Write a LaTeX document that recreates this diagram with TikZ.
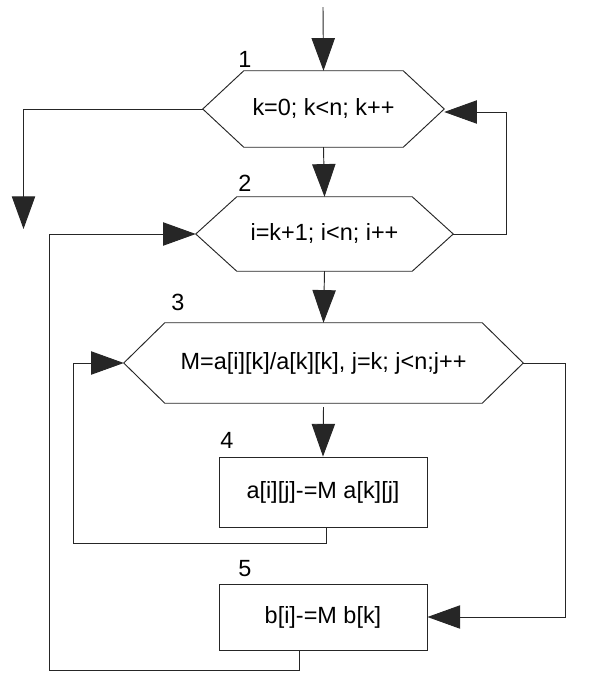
\documentclass[tikz,border=0pt]{standalone}
\usepackage{fontspec}
\setmainfont{Liberation Sans}
\usetikzlibrary{arrows.meta,calc}

\begin{document}
\begin{tikzpicture}[x=0.03cm, y=-0.03cm,
    line/.style={draw=black!85, line width=0.8pt},
    flow/.style={line, -{Triangle[length=0.98cm, width=0.7cm]}},
    hexbox/.style={rectangle, inner sep=0pt, font=\fontsize{20}{24}\selectfont},
    opbox/.style={rectangle, draw=black!85, line width=0.8pt, inner sep=0pt, font=\fontsize{20}{24}\selectfont},
    num/.style={font=\fontsize{20}{24}\selectfont}]
    \useasboundingbox (0,0) rectangle (591,686);

    % Loop headers
    \node[hexbox, minimum width=7.23cm, minimum height=2.28cm] (h1) at (323.5,109) {k=0; k<n; k++};
    \node[hexbox, minimum width=7.71cm, minimum height=2.22cm] (h2) at (324.5,234) {i=k+1; i<n; i++};
    \node[hexbox, minimum width=11.97cm, minimum height=2.4cm] (h3) at (323.5,363) {M=a[i][k]/a[k][k], j=k; j<n;j++};

    \foreach \h in {h1,h2,h3} {
        \draw[line] (\h.west) -- ($(\h.north west)+(41,0)$) -- ($(\h.north east)+(-41,0)$)
            -- (\h.east) -- ($(\h.south east)+(-41,0)$) -- ($(\h.south west)+(41,0)$) -- cycle;
    }

    % Loop bodies
    \node[opbox, minimum width=6.24cm, minimum height=2.1cm] (b4) at (323,492) {a[i][j]-=M a[k][j]};
    \node[opbox, minimum width=6.24cm, minimum height=1.98cm] (b5) at (323,617) {b[i]-=M b[k]};

    % Block numbers
    \node[num] (n1) at (245,59) {1};
    \node[num] (n2) at (245,183) {2};
    \node[num] (n3) at (178,302) {3};
    \node[num] (n4) at (227,440) {4};
    \node[num] (n5) at (245,569) {5};

    % Entry and exit
    \coordinate (start) at (323,7);
    \coordinate (stop) at (23.5,229);
    \draw[flow] (start) -- (h1.north);
    \draw[flow] (h1.west) -| (stop);

    % Main path down
    \draw[flow] (h1.south) -- (h2.north);
    \draw[flow] (h2.south) -- (h3.north);
    \draw[flow] ($(h3.south)+(0,4)$) -- (b4.north);

    % Back edges
    \coordinate (c4) at (73,543);
    \coordinate (c5) at (49,670);
    \draw[flow] (h2.east) -- ++(53,0) |- ($(h1.east)+(0,3)$);
    \draw[flow] ($(b4.south)+(3,0)$) |- (c4) |- (h3.west);
    \draw[flow] ($(b5.south)+(-24,0)$) |- (c5) |- (h2.west);
    \draw[flow] (h3.east) -- ++(42,0) |- (b5.east);
\end{tikzpicture}
\end{document}
